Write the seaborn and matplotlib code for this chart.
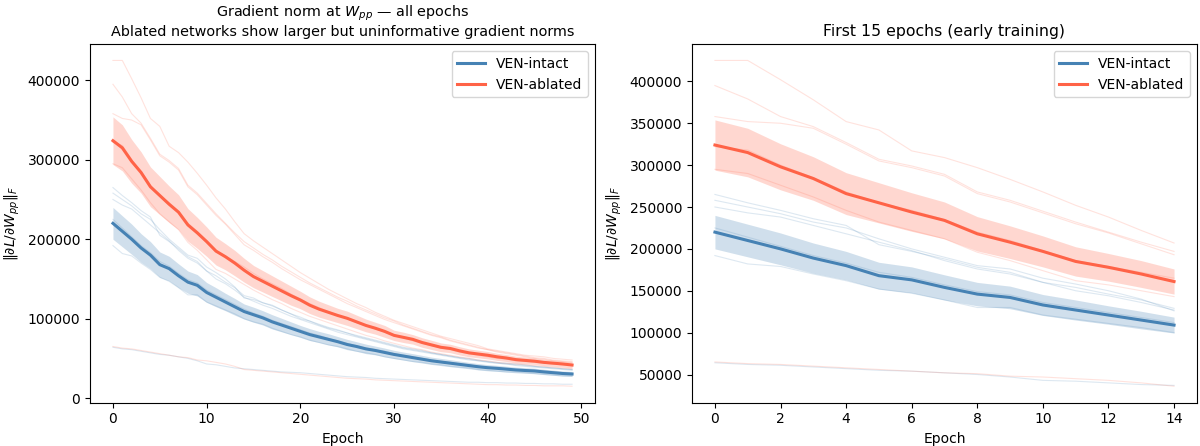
import numpy as np
import pandas as pd
import matplotlib
matplotlib.use("Agg")
import matplotlib.pyplot as plt
import seaborn as sns

# Values (gradient norm, in thousands)
epochs = list(range(50))

intact_mean = [220, 210, 200, 189, 180, 168, 163, 154, 146, 142, 133, 127, 121, 115, 109,
               105, 101, 96, 92, 88, 84, 80, 77, 74, 71, 67.5, 65, 62, 60, 57.5,
               55, 53, 51, 49, 47, 45.5, 44, 42.5, 41, 39.5, 38.3, 37.5, 36.5, 35.5, 34.8,
               34.2, 33, 32, 31, 30.4]
intact_sd = [20, 19.5, 19, 18, 17, 16, 15.5, 15, 14, 13.5, 12.5, 12, 11, 10.5, 9.5,
             9.5, 9, 9, 8.5, 8, 7.5, 7.5, 7, 7, 6.5, 6.5, 6, 6, 5.5, 5.5,
             5.2, 5, 5, 4.8, 4.6, 4.5, 4.4, 4.2, 4, 4, 3.9, 3.8, 3.7, 3.6, 3.5,
             3.5, 3.4, 3.3, 3.2, 3.2]

ablated_mean = [324, 315, 298, 284, 266, 255, 244, 234, 218, 208, 197, 185, 178, 170, 161,
                153, 147, 141, 135, 129, 123.5, 117, 112, 108, 104, 100.5, 96, 91.5, 88, 84,
                79, 76.5, 74, 70, 67, 64, 62.5, 59.5, 57, 55.5, 54, 52, 50.5, 48.5, 47.5,
                46.5, 45, 44, 43, 41.7]
ablated_sd = [30, 29, 27.5, 26, 25, 24, 23, 22, 20.5, 19.5, 18.5, 17.5, 16.5, 16, 15,
              14, 13.5, 13, 12.5, 12, 11, 10.5, 10, 9.5, 9, 9, 8.5, 8, 7.5, 7.5,
              6.5, 6.5, 6, 6, 5.8, 5.5, 5.3, 5.2, 5, 4.8, 4.7, 4.5, 4.4, 4.3, 4.2,
              4.1, 4, 3.9, 3.8, 3.7]

# individual runs
intact_runs = {
    "i1": [265, 255, 246, 236, 228, 205, 197, 188, 178, 172, 160, 154, 146, 139, 129,
           126, 120, 117, 111, 106, 100, 97, 92, 88, 85, 82, 78, 75, 72, 69,
           66, 63, 61, 59, 57, 55, 53, 51, 49, 47, 46, 44, 43, 42, 41, 40, 39, 38, 37, 36],
    "i2": [258, 250, 242, 232, 225, 212, 200, 190, 180, 176, 165, 158, 150, 140, 126,
           124, 120, 116, 111, 106, 102, 97, 93, 89, 86, 82, 79, 76, 73, 70,
           67, 64, 62, 60, 57, 55, 53, 51, 50, 48, 46, 45, 44, 43, 42, 40, 39, 38, 37, 36],
    "i3": [250, 243, 238, 228, 218, 208, 198, 186, 176, 170, 160, 150, 144, 136, 127,
           122, 117, 113, 108, 103, 99, 95, 91, 87, 83, 80, 77, 74, 71, 68,
           65, 62, 60, 58, 56, 54, 52, 50, 48, 47, 45, 44, 43, 41, 40, 39, 38, 37, 36, 35],
    "i4": [225, 214, 203, 192, 183, 172, 166, 157, 149, 145, 136, 130, 124, 118, 112,
           107, 103, 98, 94, 90, 86, 82, 79, 75, 72, 69, 66, 63, 61, 59,
           56, 54, 52, 50, 48, 46, 45, 43, 42, 40, 39, 38, 37, 36, 35, 35, 34, 33, 32, 31],
    "i5": [192, 182, 179, 170, 162, 152, 147, 139, 130, 130, 121, 116, 111, 106, 100,
           96, 93, 88, 84, 80, 77, 73, 70, 67, 65, 62, 59, 57, 55, 52,
           50, 48, 46, 45, 43, 42, 40, 39, 38, 36, 35, 34, 33, 33, 32, 31, 30, 29, 28, 28],
    "i6": [64, 62, 61, 59, 57, 55, 54, 52, 50, 47, 43, 42, 40, 38, 37,
           36, 35, 34, 33, 32.5, 32, 31, 30, 29, 28, 27, 26.5, 26, 25, 24.5,
           24, 23.5, 23, 22.5, 22, 21.5, 21, 20.5, 20, 20, 19.5, 19.5, 19, 19, 18.5,
           18.5, 18, 18, 17.5, 17.5],
}
ablated_runs = {
    "a1": [425, 425, 402, 378, 352, 342, 317, 309, 297, 283, 268, 252, 238, 222, 207,
           198, 190, 182, 174, 166, 158, 151, 144, 137, 131, 125, 119, 114, 108, 103,
           98, 94, 90, 86, 82, 78, 75, 72, 69, 66, 62, 60, 58, 56, 54, 53, 52, 50, 49, 48],
    "a2": [395, 379, 358, 346, 327, 307, 299, 289, 268, 258, 245, 232, 220, 208, 197,
           189, 181, 174, 166, 159, 152, 145, 139, 133, 127, 122, 116, 111, 106, 101,
           97, 92, 88, 84, 80, 77, 73, 70, 67, 64, 61, 59, 57, 55, 53, 51, 50, 48, 47, 46],
    "a3": [358, 352, 350, 344, 325, 305, 297, 287, 266, 256, 243, 230, 219, 206, 193,
           186, 178, 171, 163, 156, 149, 143, 137, 131, 125, 119, 114, 109, 104, 99,
           95, 91, 87, 83, 79, 76, 72, 69, 66, 63, 61, 58, 56, 54, 52, 50, 49, 47, 46, 45],
    "a4": [322, 318, 300, 285, 268, 255, 246, 235, 220, 210, 198, 186, 179, 172, 165,
           157, 150, 144, 138, 131, 125, 119, 114, 109, 104, 100, 95, 91, 87, 83,
           79, 76, 72, 69, 66, 63, 61, 58, 56, 54, 52, 50, 49, 47, 46, 45, 44, 43, 42, 41],
    "a5": [295, 290, 276, 262, 246, 232, 222, 212, 196, 186, 174, 162, 157, 150, 143,
           136, 130, 124, 119, 113, 108, 103, 99, 95, 91, 87, 83, 79, 76, 72,
           69, 66, 63, 61, 58, 56, 54, 52, 50, 48, 47, 45, 44, 43, 42, 41, 40, 39, 38, 37],
    "a6": [65, 63, 62, 60, 58, 56, 54, 52, 51, 48, 47, 45, 43, 40, 36,
           35, 34, 33, 32, 31, 30, 29, 28, 27, 26, 25, 24.5, 24, 23, 22.5,
           22, 21.5, 21, 20.5, 20, 19.5, 19, 18.5, 18, 17.5, 17, 17, 16.5, 16.5, 16,
           16, 15.5, 15.5, 15.5, 15],
}

groups = ["VEN-intact", "VEN-ablated"]
palette = {"VEN-intact": "steelblue", "VEN-ablated": "tomato"}

# long-format tables
mean_df = pd.concat([
    pd.DataFrame({"epoch": epochs, "norm": np.array(intact_mean) * 1000,
                  "sd": np.array(intact_sd) * 1000, "group": "VEN-intact"}),
    pd.DataFrame({"epoch": epochs, "norm": np.array(ablated_mean) * 1000,
                  "sd": np.array(ablated_sd) * 1000, "group": "VEN-ablated"}),
], ignore_index=True)

rows = []
for grp, runs in [("VEN-intact", intact_runs), ("VEN-ablated", ablated_runs)]:
    for name, vals in runs.items():
        rows.append(pd.DataFrame({"epoch": epochs, "norm": np.array(vals) * 1000,
                                  "run": name, "group": grp}))
runs_df = pd.concat(rows, ignore_index=True)

# plain matplotlib look
plt.rcParams["font.family"] = ["DejaVu Sans"]

fig, axes = plt.subplots(1, 2, figsize=(12, 4.46), dpi=100)
fig.subplots_adjust(left=0.075, right=0.9975, top=0.901, bottom=0.0975, wspace=0.192)


def draw_panel(ax, max_epoch):
    r = runs_df[runs_df["epoch"] <= max_epoch]
    m = mean_df[mean_df["epoch"] <= max_epoch]
    sns.lineplot(data=r, x="epoch", y="norm", hue="group", units="run",
                 estimator=None, palette=palette, hue_order=groups,
                 lw=0.8, alpha=0.18, legend=False, ax=ax)
    for grp in groups:
        g = m[m["group"] == grp]
        ax.fill_between(g["epoch"], g["norm"] - g["sd"], g["norm"] + g["sd"],
                        color=palette[grp], alpha=0.25, lw=0)
    sns.lineplot(data=m, x="epoch", y="norm", hue="group", hue_order=groups,
                 palette=palette, lw=2.2, ax=ax)
    ax.set_xlabel("Epoch", fontsize=10)
    ax.set_ylabel(r"$\|\partial L / \partial W_{pp}\|_F$", fontsize=10)
    leg = ax.legend(loc="upper right", fontsize=10)
    leg.set_title(None)


draw_panel(axes[0], 49)
axes[0].set_title("Gradient norm at $W_{pp}$ — all epochs\n"
                  "Ablated networks show larger but uninformative gradient norms",
                  fontsize=10.4)
draw_panel(axes[1], 14)
axes[1].set_title("First 15 epochs (early training)", fontsize=11.3)
axes[1].set_xticks(range(0, 15, 2))

plt.savefig("out.png")
